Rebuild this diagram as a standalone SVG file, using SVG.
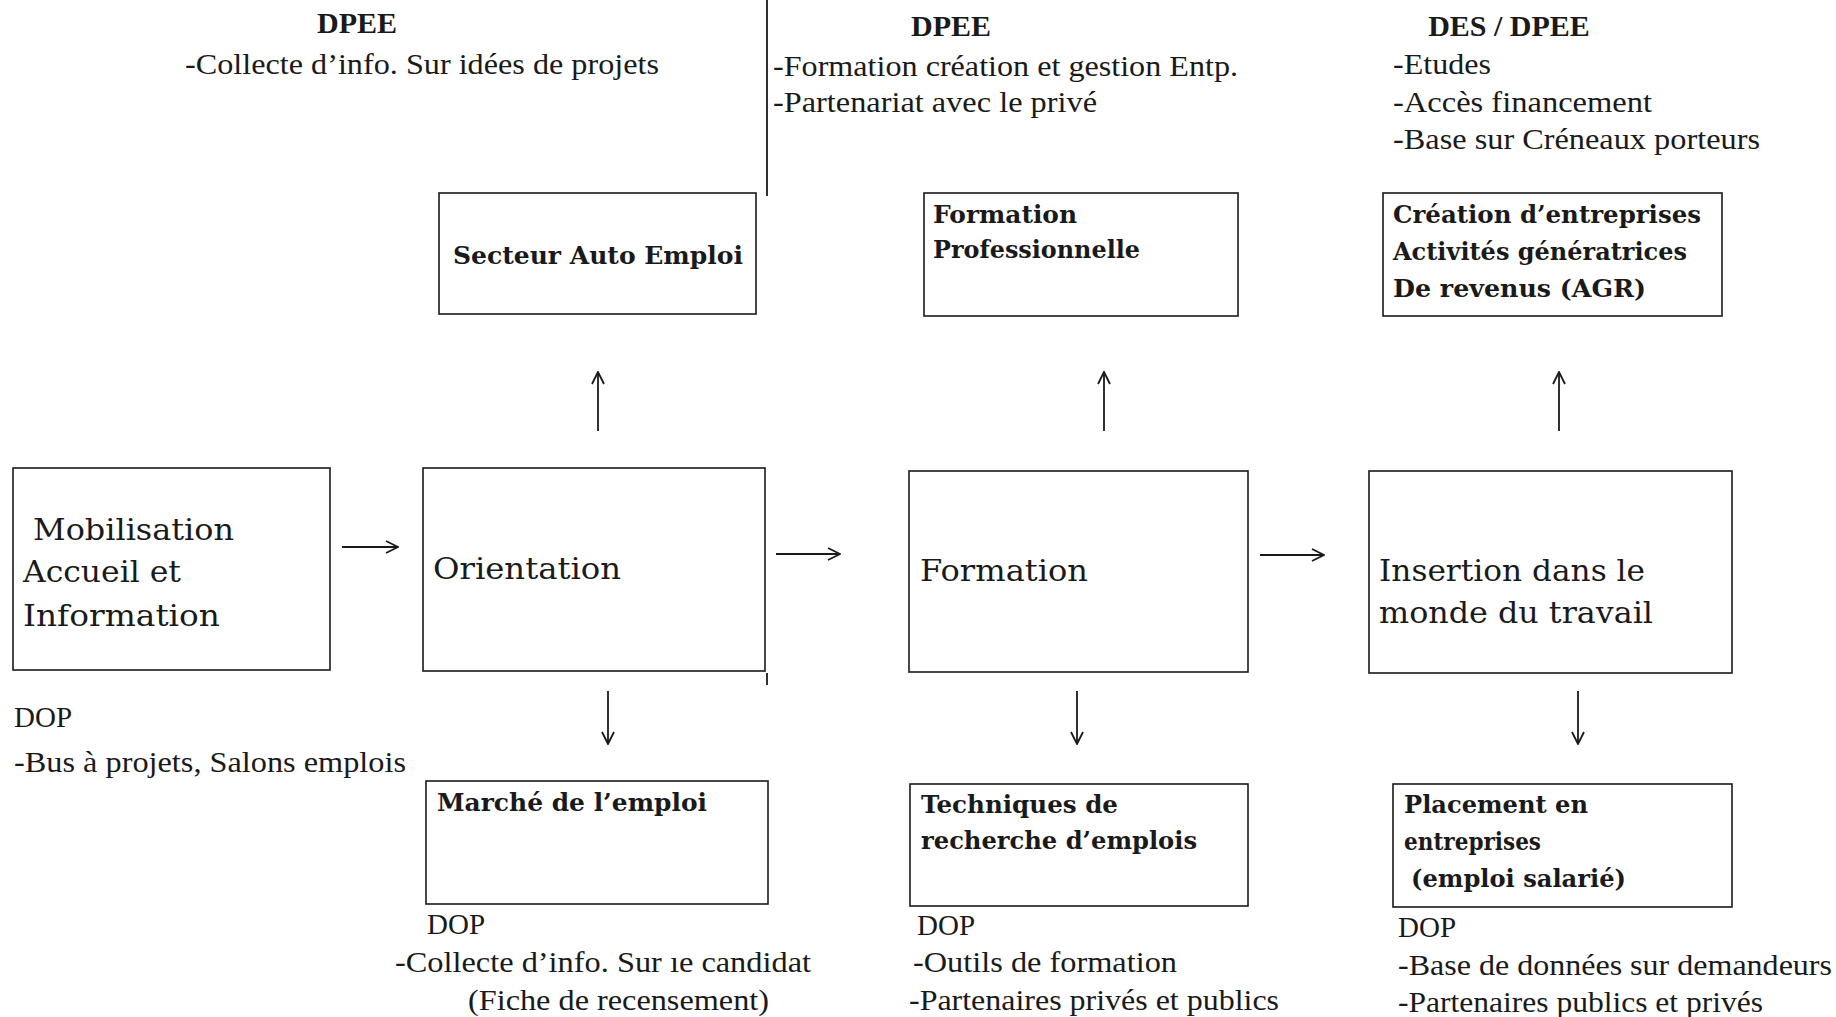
<svg xmlns="http://www.w3.org/2000/svg" width="1836" height="1017" viewBox="0 0 1836 1017">
<style>
.bg{fill:#ffffff}
.box{fill:none;stroke:#1a1a1a;stroke-width:1.6}
.ann{font-family:"Liberation Serif","Times New Roman",serif;font-size:30px;fill:#1a1a1a}
.head{font-family:"Liberation Serif","Times New Roman",serif;font-size:30px;font-weight:bold;fill:#1a1a1a}
.dop{font-family:"Liberation Serif","Times New Roman",serif;font-size:29px;fill:#1a1a1a}
.lbl{font-family:"DejaVu Serif",serif;font-size:25px;font-weight:bold;fill:#1a1a1a}
.big{font-family:"DejaVu Serif",serif;font-size:30px;fill:#1a1a1a}
.conn{stroke:#1a1a1a;stroke-width:1.8;fill:none}
</style>
<defs>
<marker id="arr" viewBox="0 0 14 14" refX="13" refY="7" markerWidth="14" markerHeight="14" markerUnits="userSpaceOnUse" orient="auto">
<path d="M1,1 L13,7 L1,13" fill="none" stroke="#1a1a1a" stroke-width="1.8"/>
</marker>
</defs>
<rect class="bg" x="0" y="0" width="1836" height="1017"/>

<g id="annotations">
<text class="head" x="357" y="33" text-anchor="middle">DPEE</text>
<text class="ann" x="185" y="74" textLength="474" lengthAdjust="spacingAndGlyphs">-Collecte d’info. Sur idées de projets</text>
<text class="head" x="951" y="36" text-anchor="middle">DPEE</text>
<text class="ann" x="773" y="76" textLength="465" lengthAdjust="spacingAndGlyphs">-Formation création et gestion Entp.</text>
<text class="ann" x="773" y="112" textLength="324" lengthAdjust="spacingAndGlyphs">-Partenariat avec le privé</text>
<text class="head" x="1509" y="36" text-anchor="middle">DES / DPEE</text>
<text class="ann" x="1393" y="74" textLength="98" lengthAdjust="spacingAndGlyphs">-Etudes</text>
<text class="ann" x="1393" y="112" textLength="259" lengthAdjust="spacingAndGlyphs">-Accès financement</text>
<text class="ann" x="1393" y="149" textLength="367" lengthAdjust="spacingAndGlyphs">-Base sur Créneaux porteurs</text>
<text class="dop" x="14" y="727">DOP</text>
<text class="ann" x="14" y="772" textLength="392" lengthAdjust="spacingAndGlyphs">-Bus à projets, Salons emplois</text>
<text class="dop" x="427" y="934">DOP</text>
<text class="ann" x="395" y="972" textLength="416" lengthAdjust="spacingAndGlyphs">-Collecte d’info. Sur ıe candidat</text>
<text class="ann" x="468" y="1010" textLength="301" lengthAdjust="spacingAndGlyphs">(Fiche de recensement)</text>
<text class="dop" x="917" y="935">DOP</text>
<text class="ann" x="913" y="972" textLength="264" lengthAdjust="spacingAndGlyphs">-Outils de formation</text>
<text class="ann" x="909" y="1010" textLength="370" lengthAdjust="spacingAndGlyphs">-Partenaires privés et publics</text>
<text class="dop" x="1398" y="937">DOP</text>
<text class="ann" x="1398" y="975" textLength="434" lengthAdjust="spacingAndGlyphs">-Base de données sur demandeurs</text>
<text class="ann" x="1398" y="1012" textLength="365" lengthAdjust="spacingAndGlyphs">-Partenaires publics et privés</text>
</g>

<g id="node-secteur">
<rect class="box" x="439" y="193" width="317" height="121"/>
<text class="lbl" x="453" y="264" textLength="290" lengthAdjust="spacingAndGlyphs">Secteur Auto Emploi</text>
</g>
<g id="node-formpro">
<rect class="box" x="924" y="193" width="314" height="123"/>
<text class="lbl" x="933" y="223" textLength="144" lengthAdjust="spacingAndGlyphs">Formation</text>
<text class="lbl" x="933" y="258" textLength="207" lengthAdjust="spacingAndGlyphs">Professionnelle</text>
</g>
<g id="node-creation">
<rect class="box" x="1383" y="193" width="339" height="123"/>
<text class="lbl" x="1393" y="223" textLength="308" lengthAdjust="spacingAndGlyphs">Création d’entreprises</text>
<text class="lbl" x="1393" y="260" textLength="294" lengthAdjust="spacingAndGlyphs">Activités génératrices</text>
<text class="lbl" x="1393" y="297" textLength="253" lengthAdjust="spacingAndGlyphs">De revenus (AGR)</text>
</g>

<g id="node-mobilisation">
<rect class="box" x="13" y="468" width="317" height="202"/>
<text class="big" x="33" y="540" textLength="201" lengthAdjust="spacingAndGlyphs">Mobilisation</text>
<text class="big" x="23" y="582" textLength="158" lengthAdjust="spacingAndGlyphs">Accueil et</text>
<text class="big" x="23" y="626" textLength="197" lengthAdjust="spacingAndGlyphs">Information</text>
</g>
<g id="node-orientation">
<rect class="box" x="423" y="468" width="342" height="203"/>
<text class="big" x="433" y="579" textLength="188" lengthAdjust="spacingAndGlyphs">Orientation</text>
</g>
<g id="node-formation">
<rect class="box" x="909" y="471" width="339" height="201"/>
<text class="big" x="920" y="581" textLength="168" lengthAdjust="spacingAndGlyphs">Formation</text>
</g>
<g id="node-insertion">
<rect class="box" x="1369" y="471" width="363" height="202"/>
<text class="big" x="1379" y="581" textLength="266" lengthAdjust="spacingAndGlyphs">Insertion dans le</text>
<text class="big" x="1379" y="623" textLength="274" lengthAdjust="spacingAndGlyphs">monde du travail</text>
</g>

<g id="node-marche">
<rect class="box" x="426" y="781" width="342" height="123"/>
<text class="lbl" x="437" y="811" textLength="270" lengthAdjust="spacingAndGlyphs">Marché de l’emploi</text>
</g>
<g id="node-techniques">
<rect class="box" x="910" y="784" width="338" height="122"/>
<text class="lbl" x="921" y="813" textLength="197" lengthAdjust="spacingAndGlyphs">Techniques de</text>
<text class="lbl" x="921" y="849" textLength="276" lengthAdjust="spacingAndGlyphs">recherche d’emplois</text>
</g>
<g id="node-placement">
<rect class="box" x="1393" y="784" width="339" height="123"/>
<text class="lbl" x="1404" y="813" textLength="184" lengthAdjust="spacingAndGlyphs">Placement en</text>
<text class="lbl" x="1404" y="850" textLength="137" lengthAdjust="spacingAndGlyphs">entreprises</text>
<text class="lbl" x="1411" y="887" textLength="215" lengthAdjust="spacingAndGlyphs">(emploi salarié)</text>
</g>

<g id="connectors">
<line class="conn" x1="342" y1="547" x2="398" y2="547" marker-end="url(#arr)"/>
<line class="conn" x1="776" y1="554" x2="840" y2="554" marker-end="url(#arr)"/>
<line class="conn" x1="1260" y1="555" x2="1324" y2="555" marker-end="url(#arr)"/>
<line class="conn" x1="598" y1="431" x2="598" y2="372" marker-end="url(#arr)"/>
<line class="conn" x1="1104" y1="431" x2="1104" y2="372" marker-end="url(#arr)"/>
<line class="conn" x1="1559" y1="431" x2="1559" y2="372" marker-end="url(#arr)"/>
<line class="conn" x1="608" y1="691" x2="608" y2="744" marker-end="url(#arr)"/>
<line class="conn" x1="1077" y1="691" x2="1077" y2="744" marker-end="url(#arr)"/>
<line class="conn" x1="1578" y1="691" x2="1578" y2="744" marker-end="url(#arr)"/>
<line class="conn" x1="767" y1="0" x2="767" y2="196" stroke-width="1.4"/>
<line class="conn" x1="767" y1="673" x2="767" y2="685" stroke-width="1.2"/>
</g>
</svg>
